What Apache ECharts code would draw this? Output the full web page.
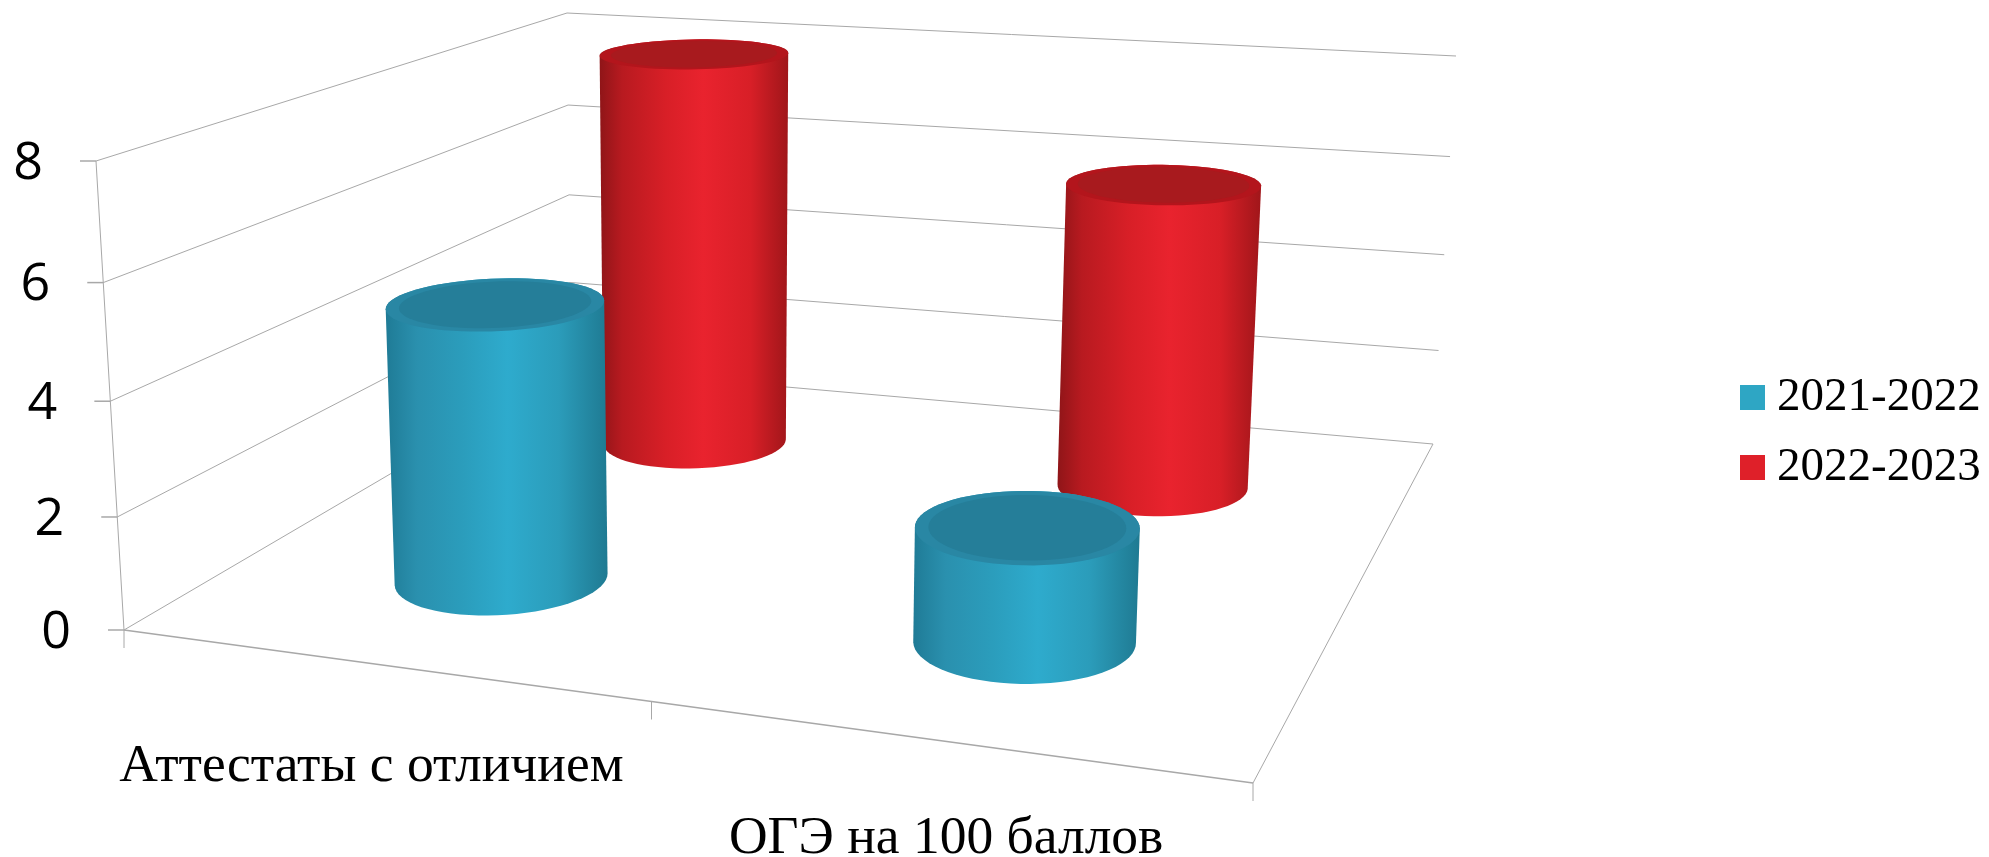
<!DOCTYPE html>
<html><head><meta charset="utf-8">
<style>html,body{margin:0;padding:0;background:#fff}#c{width:1989px;height:857px}</style>
<script src="https://cdn.jsdelivr.net/npm/echarts@6/dist/echarts.min.js"></script>
</head><body><div id="c"></div>
<script>
const categories = ['Аттестаты с отличием', 'ОГЭ на 100 баллов'];
const seriesNames = ['2021-2022', '2022-2023'];
const values2021 = [5, 2];
const values2022 = [8, 6];
const tickValues = [0, 2, 4, 6, 8];

// perspective of the 3D box: screen corners of floor and top planes
const floorCorners = [[124,630],[1253,783],[1433,444],[571,368]];
const topCorners   = [[96,161],[1276,249],[1456,56],[567,13]];
const persp = 0.05, RX = 0.096, RZ = 0.108, warp = 0.032;
const labelShift = [[-8,102],[4,98]];

function homography(q){
  const [x0,y0]=q[0],[x1,y1]=q[1],[x2,y2]=q[2],[x3,y3]=q[3];
  const dx1=x1-x2,dx2=x3-x2,dy1=y1-y2,dy2=y3-y2,sx=x0-x1+x2-x3,sy=y0-y1+y2-y3;
  const den=dx1*dy2-dx2*dy1, g=(sx*dy2-dx2*sy)/den, h=(dx1*sy-sx*dy1)/den;
  const a=x1-x0+g*x1,b=x3-x0+h*x3,d=y1-y0+g*y1,e=y3-y0+h*y3;
  return (u,v)=>{const w=g*u+h*v+1;return [(a*u+b*v+x0)/w,(d*u+e*v+y0)/w];};
}
const H0=homography(floorCorners), H1=homography(topCorners);
function project(x,z,t){
  const u=x+warp*x*(1-x);
  const p=H0(u,z), q=H1(u,z), s=t/(1+persp*(1-t));
  return [p[0]+(q[0]-p[0])*s, p[1]+(q[1]-p[1])*s];
}
function hull(pts){
  const s=pts.slice().sort((a,b)=>a[0]-b[0]||a[1]-b[1]);
  const cr=(o,a,b)=>(a[0]-o[0])*(b[1]-o[1])-(a[1]-o[1])*(b[0]-o[0]);
  const lo=[],up=[];
  for(const p of s){while(lo.length>1&&cr(lo[lo.length-2],lo[lo.length-1],p)<=0)lo.pop();lo.push(p);}
  for(const p of s.slice().reverse()){while(up.length>1&&cr(up[up.length-2],up[up.length-1],p)<=0)up.pop();up.push(p);}
  return lo.slice(0,-1).concat(up.slice(0,-1));
}
function normalize(params,api,cat,val){
  const c=api.coord([cat,val]), g=params.coordSys;
  return [(c[0]-g.x)/g.width, (g.y+g.height-c[1])/g.height];
}
function ring(xc,zc,t,k){
  const out=[];
  for(let i=0;i<72;i++){const a=i/72*Math.PI*2;out.push(project(xc+RX*k*Math.cos(a),zc+RZ*k*Math.sin(a),t));}
  return out;
}
function cylinder(depth,bodyStops,rimColor,capColor){
  return function(params,api){
    const n=normalize(params,api,api.value(0),api.value(1));
    const base=ring(n[0],depth,0,1), top=ring(n[0],depth,n[1],1), cap=ring(n[0],depth,n[1],0.88);
    return {type:'group',children:[
      {type:'polygon',shape:{points:hull(base.concat(top))},
       style:{fill:new echarts.graphic.LinearGradient(0,0,1,0,bodyStops)}},
      {type:'polygon',shape:{points:top},style:{fill:rimColor}},
      {type:'polygon',shape:{points:cap},style:{fill:capColor}}
    ]};
  };
}
const lineStyle={stroke:'#a8a8a8',lineWidth:1,fill:null};
function line(a,b,w){return {type:'line',shape:{x1:a[0],y1:a[1],x2:b[0],y2:b[1]},style:Object.assign({},lineStyle,{lineWidth:w||1})};}
function renderFrame(params,api){
  const t=normalize(params,api,0,api.value(0))[1];
  const fl=project(0,0,t),bl=project(0,1,t),br=project(1,1,t);
  const kids=[line(fl,bl),line(bl,br),line([fl[0]-16,fl[1]],fl,1.5)];
  kids.push({type:'text',style:{text:String(api.value(0)),x:fl[0]-68,y:fl[1]+3,align:'center',verticalAlign:'middle',
    font:'52px "Open Sans"',fill:'#000'}});
  if(t===0){
    const fr=project(1,0,0);
    kids.push(line(fl,fr,1.5),line(fr,br,1));
    [0,0.5,1].forEach(u=>{const p=project(u,0,0);kids.push(line(p,[p[0],p[1]+18]));});
  }
  if(t===1) kids.push(line(project(0,0,0),fl));
  return {type:'group',children:kids};
}
function renderCategoryLabel(params,api){
  const n=normalize(params,api,api.value(0),0), p=project(n[0],0,0), d=labelShift[params.dataIndex];
  return {type:'text',style:{text:categories[params.dataIndex],x:p[0]+d[0],y:p[1]+d[1],align:'center',verticalAlign:'middle',
    font:'53.5px "Liberation Serif"',fill:'#000'}};
}
const tealStops=[{offset:0,color:'#1f7b96'},{offset:.14,color:'#2a90ae'},{offset:.35,color:'#2b9dbc'},{offset:.55,color:'#2eabcd'},{offset:.78,color:'#2b9cba'},{offset:1,color:'#1f7a92'}];
const redStops=[{offset:0,color:'#8f1518'},{offset:.12,color:'#b81a20'},{offset:.35,color:'#d81f27'},{offset:.55,color:'#e9232e'},{offset:.8,color:'#d81f27'},{offset:1,color:'#a0161a'}];
const chart=echarts.init(document.getElementById('c'),null,{renderer:'canvas'});
chart.setOption({
  animation:false,backgroundColor:'#fff',
  grid:{left:0,right:0,top:0,bottom:0},
  xAxis:{type:'category',data:categories,show:false},
  yAxis:{type:'value',min:0,max:8,interval:2,show:false},
  legend:{data:seriesNames,orient:'vertical',left:1735,top:369,itemWidth:25,itemHeight:25,itemGap:23,icon:'rect',
    textStyle:{fontFamily:'Liberation Serif',fontSize:47,color:'#000',padding:[0,0,0,7]}},
  series:[
    {name:'frame',type:'custom',z:1,silent:true,data:tickValues.map(v=>[v]),encode:{y:0},renderItem:renderFrame},
    {name:'labels',type:'custom',z:1,silent:true,data:categories.map(c=>[c]),encode:{x:0},renderItem:renderCategoryLabel},
    {name:seriesNames[1],type:'custom',z:2,itemStyle:{color:'#df2029'},data:categories.map((c,i)=>[c,values2022[i]]),encode:{x:0,y:1},
     renderItem:cylinder(0.75,redStops,'#b3151c','#a81a1e')},
    {name:seriesNames[0],type:'custom',z:3,itemStyle:{color:'#2ea6c4'},data:categories.map((c,i)=>[c,values2021[i]]),encode:{x:0,y:1},
     renderItem:cylinder(0.25,tealStops,'#2987a4','#257e99')}
  ]
});
</script></body></html>
